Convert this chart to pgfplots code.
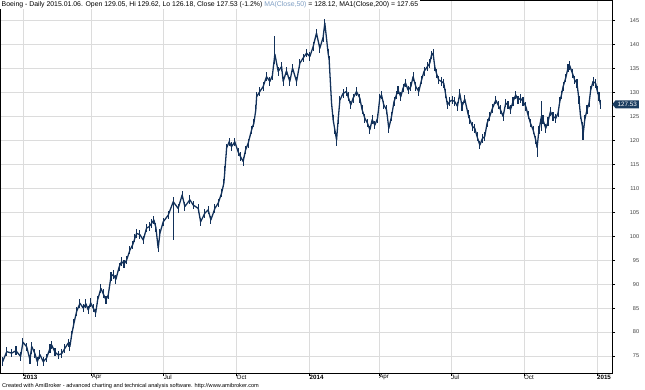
\documentclass[border=0pt]{standalone}
\usepackage{pgfplots}
\pgfplotsset{compat=1.18}
\usepackage{pgfplotstable}
\usepackage{fontspec}
\setmainfont{Liberation Sans}
\usetikzlibrary{shapes.symbols}
\definecolor{bar}{HTML}{12315A}
\definecolor{mark}{HTML}{1B3D60}
\definecolor{malbl}{HTML}{7F9FC4}
\definecolor{gridc}{HTML}{DCDCDC}
\pgfplotstableread{
d c ep em
-18.1 73.8 0.9 0.9
-14.5 75.9 0.9 0.9
-10.2 75.6 0.9 0.9
-6.4 76.1 0.9 0.9
-2.3 74.9 0.9 0.9
-0.3 77.9 0.9 0.9
3.0 76.9 0.9 0.9
5.9 74.2 0.9 0.9
7.4 77.0 0.9 1.5
10.2 75.5 0.9 0.9
12.3 73.8 0.9 0.9
14.6 75.3 0.9 0.9
17.5 73.8 0.9 0.9
20.5 74.6 0.9 0.9
23.4 76.6 0.9 0.9
24.9 77.3 0.9 0.9
27.8 75.8 0.9 0.9
30.7 75.2 0.9 0.9
33.7 75.5 0.9 0.9
36.5 76.6 0.9 0.9
39.4 77.7 0.9 0.9
40.9 77.0 0.9 0.9
42.4 79.4 0.9 0.9
44.4 81.8 0.9 0.9
46.8 84.3 0.9 0.9
49.7 86.0 0.9 0.9
52.6 85.0 0.9 0.9
54.9 85.9 0.9 0.9
57.0 84.6 0.9 0.9
59.1 86.1 0.9 0.9
61.3 85.0 0.9 0.9
63.5 84.0 0.9 0.9
65.2 86.7 0.9 0.9
68.1 89.1 0.9 0.9
70.1 88.0 0.9 0.9
72.5 86.7 0.9 0.9
74.5 87.7 0.9 0.9
76.9 91.6 0.9 0.9
78.9 92.0 0.9 0.9
81.2 91.0 0.9 0.9
84.1 93.6 0.9 0.9
86.2 94.7 0.9 0.9
88.3 94.2 0.9 0.9
90.6 95.0 0.9 0.9
93.5 97.1 0.9 0.9
95.9 98.2 0.9 0.9
97.9 99.6 0.9 0.9
99.4 100.6 0.9 0.9
102.3 100.3 0.9 0.9
105.2 99.2 0.9 0.9
108.1 101.7 0.9 0.9
110.4 102.0 0.9 0.9
112.5 102.7 0.9 0.9
114.5 103.4 0.9 0.9
116.3 101.8 0.9 0.9
118.3 97.5 0.9 0.9
119.8 100.6 0.9 0.9
122.7 103.0 0.9 0.9
127.1 104.4 0.9 0.9
131.5 107.2 0.9 8.0
135.8 105.8 0.9 0.9
139.3 108.6 0.9 0.9
141.7 106.2 0.9 0.9
146.1 107.6 0.9 0.9
149.0 106.5 0.9 0.9
153.4 105.8 0.9 0.9
155.5 103.0 0.9 0.9
159.2 104.8 0.9 0.9
162.1 105.5 0.9 0.9
164.5 103.4 0.9 0.9
168.0 105.8 0.9 0.9
170.9 106.9 0.9 0.9
173.9 109.0 0.9 0.9
175.9 111.1 0.9 0.9
176.8 113.8 0.9 0.9
178.3 118.4 0.9 0.9
180.5 119.7 0.9 0.9
182.6 118.7 0.9 0.9
185.5 119.7 0.9 0.9
188.4 117.6 0.9 0.9
190.5 116.6 0.9 0.9
192.8 115.6 0.9 0.9
194.9 118.0 0.9 0.9
197.2 119.4 0.9 0.9
200.2 122.2 0.9 0.9
202.2 123.6 0.9 0.9
203.9 126.4 0.9 0.9
204.6 129.1 0.9 0.9
207.4 130.2 0.9 0.9
210.3 131.2 0.9 0.9
213.3 133.3 0.9 0.9
216.2 132.3 0.9 0.9
218.4 133.5 0.9 0.9
220.6 138.0 3.7 2.0
223.5 134.4 0.9 0.9
226.5 135.4 0.9 0.9
227.9 132.3 0.9 0.9
230.8 134.5 0.9 0.9
233.7 132.3 0.9 0.9
236.1 135.1 0.9 0.9
239.6 132.3 0.9 0.9
242.5 136.1 0.9 0.9
245.4 137.2 0.9 0.9
248.4 138.2 0.9 0.9
251.3 137.5 0.9 0.9
254.2 139.6 0.9 0.9
257.1 142.4 0.9 0.9
260.0 139.2 0.9 0.9
262.9 141.5 0.9 0.9
264.4 144.5 0.9 0.9
267.3 138.2 0.9 0.9
268.2 136.8 0.9 0.9
269.4 131.6 0.9 0.9
270.3 127.8 0.9 0.9
271.7 124.3 0.9 0.9
273.2 122.2 0.9 0.9
274.7 120.1 0.9 1.2
276.1 124.3 0.9 0.9
277.6 128.4 0.9 0.9
280.4 129.8 0.9 0.9
283.4 130.2 0.9 0.9
284.8 129.1 0.9 0.9
287.2 127.4 0.9 0.9
289.2 128.8 0.9 0.9
292.2 130.2 0.9 0.9
295.1 128.8 0.9 0.9
297.1 126.4 0.9 0.9
299.5 124.6 0.9 0.9
301.8 123.6 0.9 0.9
303.9 122.2 0.9 0.9
305.9 124.3 0.9 0.9
308.3 123.2 0.9 0.9
310.6 124.6 0.9 0.9
312.6 128.8 0.9 0.9
314.1 129.5 0.9 0.9
316.1 127.4 0.9 0.9
318.5 126.4 0.9 0.9
320.5 122.5 0.9 0.9
322.9 125.0 0.9 0.9
325.1 128.1 0.9 0.9
327.2 129.5 0.9 0.9
328.6 130.5 0.9 0.9
331.0 129.1 0.9 0.9
333.0 130.9 0.9 0.9
335.1 132.0 0.9 0.9
337.4 130.5 0.9 0.9
339.8 131.2 0.9 0.9
341.8 133.3 0.9 0.9
344.2 131.2 0.9 0.9
346.8 130.2 0.9 0.9
349.2 132.6 0.9 0.9
351.4 134.4 0.9 0.9
354.4 135.4 0.9 0.9
356.4 136.1 0.9 0.9
357.9 137.8 0.9 0.9
359.3 138.2 0.9 0.9
360.8 135.4 0.9 0.9
362.3 134.0 0.9 0.9
364.3 132.6 0.9 0.9
366.7 132.3 0.9 0.9
368.7 131.9 0.9 0.9
370.2 129.8 0.9 0.9
371.9 127.4 0.9 0.9
373.9 128.1 0.9 0.9
376.0 128.4 0.9 0.9
378.3 128.1 0.9 0.9
380.7 127.1 0.9 0.9
382.7 129.8 0.9 0.9
384.7 127.1 0.9 0.9
387.1 128.6 0.9 0.9
390.0 125.5 0.9 0.9
391.5 124.3 0.9 0.9
393.9 122.9 0.9 0.9
395.9 122.5 0.9 0.9
397.9 120.8 0.9 0.9
400.3 119.0 0.9 0.9
402.6 120.4 0.9 0.9
404.6 120.8 0.9 0.9
406.7 123.6 0.9 0.9
409.0 125.0 0.9 0.9
411.4 126.7 0.9 0.9
414.3 128.4 0.9 0.9
416.3 127.4 0.9 0.9
418.4 126.4 0.9 0.9
420.7 125.0 0.9 0.9
423.0 127.8 0.9 0.9
425.0 127.4 0.9 0.9
427.2 126.4 0.9 0.9
429.4 128.1 0.9 0.9
431.8 129.5 0.9 0.9
433.8 128.4 0.9 0.9
435.9 128.8 0.9 0.9
438.2 128.1 0.9 0.9
440.6 127.1 0.9 0.9
442.6 125.3 0.9 0.9
444.7 123.6 0.9 0.9
447.0 122.2 0.9 0.9
449.3 120.1 0.9 0.9
450.5 118.5 0.9 2.0
452.2 122.2 0.9 0.9
454.3 125.0 3.2 3.0
455.7 124.3 0.9 0.9
458.1 122.5 0.9 0.9
460.1 123.9 0.9 0.9
462.2 126.0 0.9 0.9
464.5 125.0 0.9 0.9
466.9 124.6 0.9 0.9
468.9 125.7 0.9 0.9
470.4 128.1 0.9 0.9
471.9 129.5 0.9 0.9
473.3 131.2 0.9 0.9
475.6 133.0 0.9 0.9
477.6 135.1 0.9 0.9
479.1 135.6 0.9 0.9
481.5 134.0 0.9 0.9
483.5 132.6 0.9 0.9
485.5 131.9 0.9 0.9
487.3 128.4 0.9 0.9
488.5 125.3 0.9 0.9
490.3 122.9 0.9 0.9
490.8 121.1 0.9 1.0
492.3 124.3 0.9 0.9
494.3 126.4 0.9 0.9
496.1 127.8 0.9 0.9
497.5 130.5 0.9 0.9
499.6 132.3 0.9 0.9
501.9 131.9 0.9 0.9
503.1 130.5 0.9 0.9
504.8 129.1 0.9 0.9
506.0 127.5 0.9 0.9
}\ba
\begin{document}
\begin{tikzpicture}
\path[use as bounding box] (0,0) rectangle (645bp,390bp);
\begin{axis}[
  at={(0,17bp)}, anchor=south west,
  scale only axis, width=612bp, height=373bp,
  xmin=-20.4, xmax=516.2, ymin=71.45, ymax=149.3,
  clip=false,
  axis line style={black, line width=0.6pt},
  grid=major, major grid style={gridc, line width=0.6pt},
  tick align=outside, major tick length=3bp,
  tick style={black, line width=0.5pt},
  xtick pos=bottom, ytick pos=right, yticklabel pos=right,
  ytick={75,80,...,145},
  xtick={0,60,123,187,251,312,375,439,503},
  xticklabels={\textbf{2013},Apr,Jul,Oct,\textbf{2014},Apr,Jul,Oct,\textbf{2015}},
  /pgf/number format/assume math mode=true,
  yticklabel style={font=\fontsize{5.6bp}{6bp}\selectfont, text=black!75, text width=20bp, align=right, inner sep=1bp, xshift=3bp},
  xticklabel style={font=\fontsize{6.2bp}{7bp}\selectfont, anchor=north west, inner sep=0.5bp, xshift=-0.5bp, yshift=2bp},
]
\addplot[bar, line width=1.3pt, line join=round, error bars/.cd, y dir=both, y explicit, error mark=none, error bar style={bar, line width=1.1pt}]
  table[x=d, y=c, y error plus=ep, y error minus=em] {\ba};
\node[anchor=north west, fill=white, inner xsep=1.5bp, inner ysep=1bp, font=\fontsize{6.9bp}{7.5bp}\selectfont] at (rel axis cs:0,1)
  {Boeing - Daily 2015.01.06. Open 129.05, Hi 129.62, Lo 126.18, Close 127.53 (-1.2\%) \textcolor{malbl}{MA(Close,50)} = 128.12, MA1(Close,200) = 127.65};
\node[signal, signal to=west, signal pointer angle=100, fill=mark, text=white, anchor=west, inner xsep=2bp, inner ysep=1.8bp, font=\fontsize{6.3bp}{6.5bp}\selectfont] at (axis cs:516.2,127.53) {127.53};
\end{axis}
\node[anchor=south west, inner sep=0pt, font=\fontsize{5.6bp}{6bp}\selectfont] at (2bp,1.5bp)
  {Created with AmiBroker - advanced charting and technical analysis software. http://www.amibroker.com};
\end{tikzpicture}
\end{document}
